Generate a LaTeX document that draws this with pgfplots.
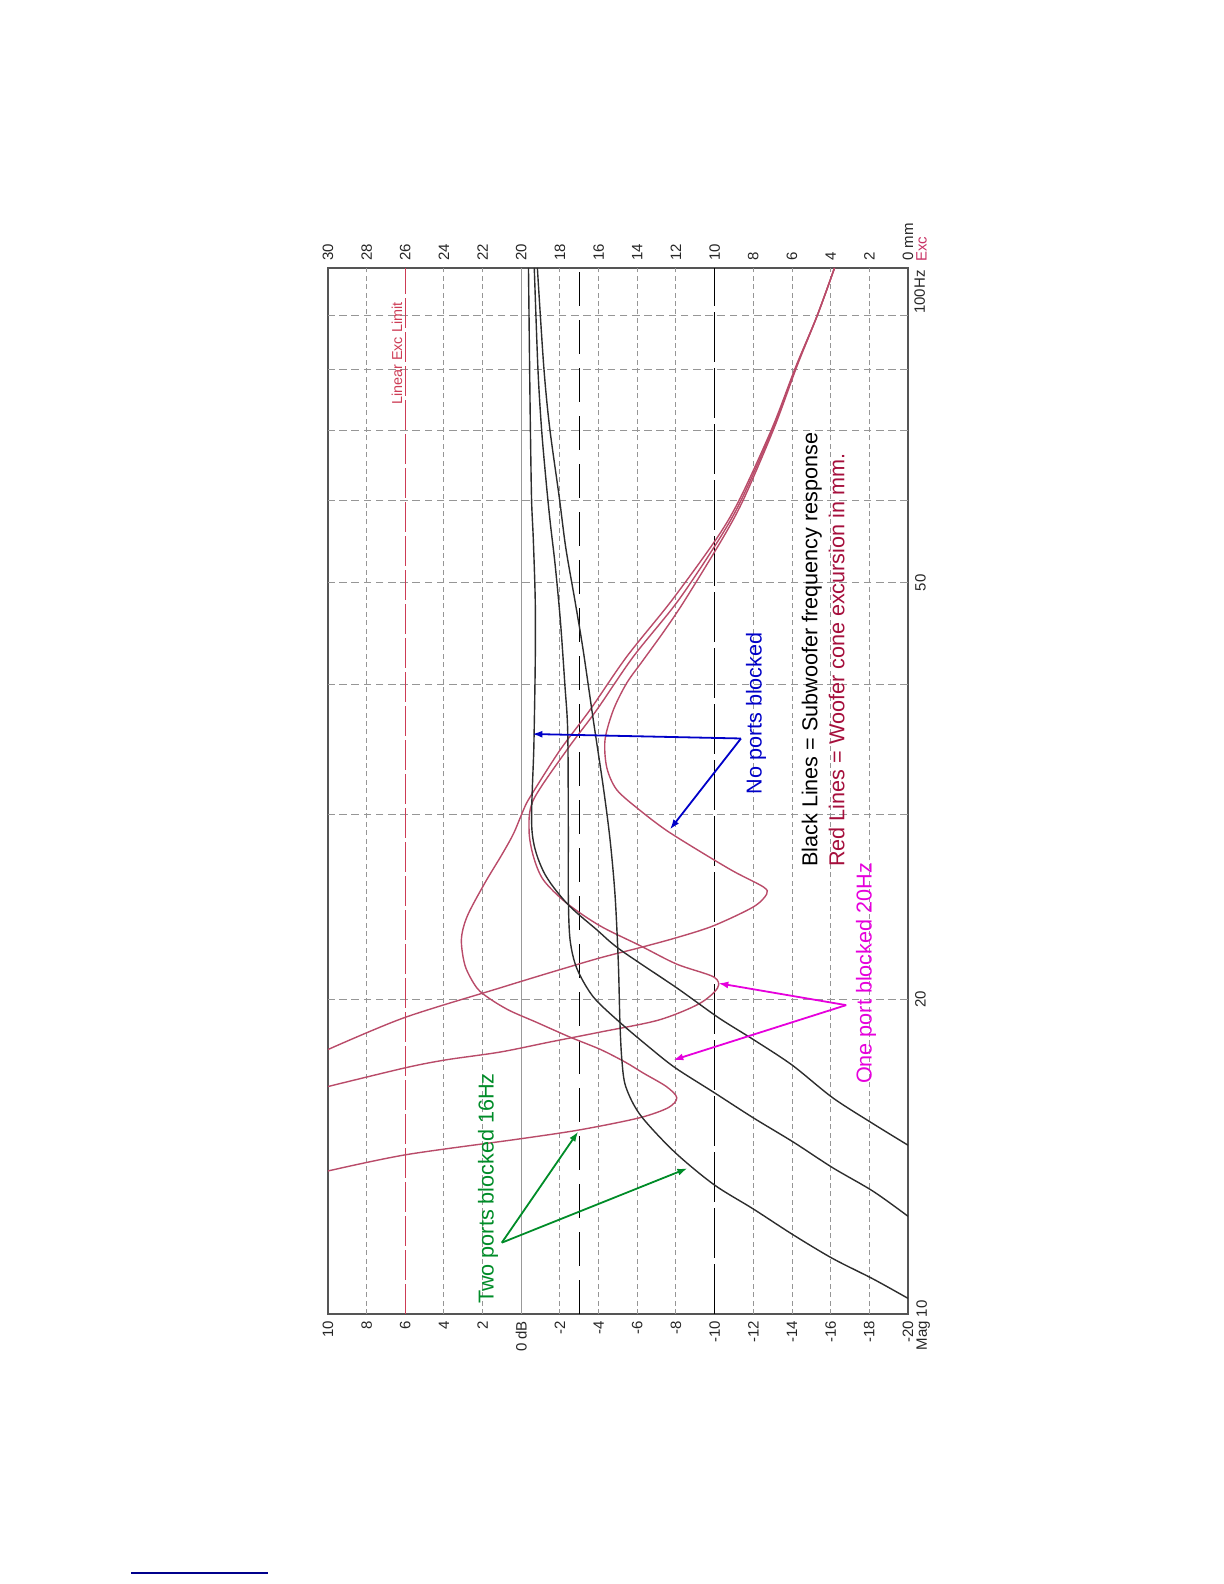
\documentclass[border=0pt]{standalone}
\usepackage{pgfplots}
\pgfplotsset{compat=1.18}
\usepackage{fontspec}
\setmainfont{Liberation Sans}
\usetikzlibrary{arrows.meta,calc}

\definecolor{exccol}{RGB}{185,75,105}
\definecolor{splcol}{RGB}{45,45,45}
\definecolor{limcol}{RGB}{205,60,85}
\definecolor{gridcol}{RGB}{150,150,150}
\definecolor{framecol}{RGB}{85,85,85}
\definecolor{redtxt}{RGB}{165,15,60}
\definecolor{greentxt}{RGB}{0,140,40}
\definecolor{bluetxt}{RGB}{0,0,200}
\definecolor{magtxt}{RGB}{230,0,220}
\definecolor{linkcol}{RGB}{0,0,140}

\newcommand{\ticksize}{\fontsize{7.5}{9}\selectfont}
\newcommand{\notesize}{\fontsize{10.8}{13}\selectfont}

\begin{document}
\begin{tikzpicture}
\path[use as bounding box] (0,0) rectangle (612pt,792pt);
\draw[linkcol, line width=0.8pt] (65.5pt,5.5pt) -- (134pt,5.5pt);

\begin{axis}[
  at={(164pt,135pt)}, anchor=south west,
  width=290pt, height=523pt, scale only axis,
  xmin=-20, xmax=10, x dir=reverse,
  ymin=10, ymax=100, ymode=log,
  axis line style={draw=framecol, line width=0.8pt},
  xtick={-20,-18,...,10},
  xticklabels={-20,-18,-16,-14,-12,-10,-8,-6,-4,-2,0 dB,2,4,6,8,10},
  xticklabel style={rotate=90, anchor=east, font=\ticksize, text=black!85},
  ytick={20,50},
  yticklabels={20,50},
  yticklabel pos=right,
  yticklabel style={rotate=90, anchor=north, font=\ticksize, text=black!85},
  major tick length=0pt,
  minor tick length=0pt,
  yminorticks=false,
  clip mode=individual,
]
% grid
\pgfplotsinvokeforeach{-18,-16,-14,-12,-8,-6,-4,-2,2,4,8}{
  \draw[gridcol, line width=0.5pt, dash pattern=on 2.5pt off 1.7pt] (axis cs:#1,10) -- (axis cs:#1,100);
}
\pgfplotsinvokeforeach{20,30,40,50,60,70,80,90}{
  \draw[gridcol, line width=0.5pt, dash pattern=on 3.8pt off 2.3pt] (axis cs:-20,#1) -- (axis cs:10,#1);
}
% reference lines
\addplot[gray!80, line width=0.5pt] coordinates {(0,10) (0,100)};
\addplot[black, line width=0.8pt, dash pattern=on 17pt off 7pt] coordinates {(-3,10) (-3,100)};
\addplot[black, line width=0.8pt, dash pattern=on 25pt off 3pt] coordinates {(-10,10) (-10,100)};
\addplot[limcol, line width=0.8pt, dash pattern=on 15pt off 2pt] coordinates {(6,10) (6,100)};

% excursion curves (mm = dB + 20)
\addplot[exccol, line width=0.7pt, smooth] coordinates {
(10,17.9) (6.06,19.2) (1.1,20.5) (-1.48,21.2) (-4.07,21.9) (-6.14,22.4) (-8.04,22.9) (-9.93,23.5) (-12.0,24.5) (-12.69,25.2) (-12.52,25.6) (-10.97,26.5) (-9.22,27.7) (-7.5,29.0) (-6.14,30.3) (-4.94,31.7) (-4.42,33.3) (-4.33,35.4) (-4.76,37.8) (-5.45,40.1) (-6.31,42.2) (-7.4,45) (-8.45,48.1) (-10.45,55.3) (-11.55,60.4) (-13.1,70.5) (-14.25,80.5) (-15.3,90) (-16.2,100)};
\addplot[exccol, line width=0.7pt, smooth] coordinates {
(10,16.5) (5.97,17.2) (3.88,17.5) (1.1,17.8) (-1.48,18.2) (-4.07,18.6) (-7.1,19.1) (-9.2,19.8) (-10.15,20.5) (-9.95,21.0) (-8.04,21.6) (-6.14,22.5) (-4.07,23.5) (-2.35,24.7) (-1.14,26.0) (-0.62,27.4) (-0.4,29.0) (-0.62,31.0) (-2.35,34.6) (-3.9,37.8) (-5.79,42.5) (-8.12,48.1) (-10.3,55.3) (-11.45,60.4) (-13.05,70.5) (-14.22,80.5) (-15.3,90) (-16.2,100)};
\addplot[exccol, line width=0.7pt, smooth] coordinates {
(10,13.7) (5.96,14.2) (0.12,14.7) (-3.04,15.0) (-6.1,15.4) (-7.6,15.75) (-8.04,16.1) (-7.5,16.5) (-6.3,17.0) (-5.4,17.4) (-4.1,17.9) (-2.5,18.4) (-0.8,19.0) (0.6,19.5) (1.6,20.0) (2.3,20.5) (2.9,21.5) (3.1,22.8) (2.8,24.0) (1.9,25.8) (1.0,27.5) (0.4,28.8) (-0.1,30.3) (-0.45,31.2) (-2.0,34.6) (-3.55,37.8) (-5.45,42.5) (-7.78,48.1) (-10.15,55.3) (-11.35,60.4) (-13.0,70.5) (-14.2,80.5) (-15.3,90) (-16.2,100)};

% frequency response curves
\addplot[splcol, line width=0.7pt, smooth] coordinates {
(-20,14.5) (-18.2,15.2) (-16.1,16.1) (-14.0,17.3) (-12.0,18.3) (-10.2,19.2) (-8.04,20.5) (-5.11,22.3) (-3.9,23.3) (-2.35,24.7) (-1.14,26.5) (-0.55,29) (-0.65,35) (-0.72,42) (-0.72,48) (-0.62,55) (-0.53,60) (-0.47,70) (-0.43,80) (-0.37,100)};
\addplot[splcol, line width=0.7pt, smooth] coordinates {
(-20,12.4) (-18.2,13.1) (-16.1,13.8) (-14.07,14.6) (-12.0,15.4) (-9.93,16.3) (-7.95,17.2) (-6.6,18.0) (-5.1,19.0) (-3.72,20.1) (-2.87,21.4) (-2.52,22.8) (-2.43,25.1) (-2.43,29.0) (-2.4,36) (-2.25,40) (-2.02,46) (-1.75,52) (-1.5,57) (-1.3,62) (-1.05,70) (-0.86,80) (-0.67,100)};
\addplot[splcol, line width=0.7pt, smooth] coordinates {
(-20,10.35) (-18.2,10.8) (-16.1,11.3) (-14.07,11.9) (-12.0,12.6) (-9.95,13.3) (-7.9,14.3) (-6.15,15.5) (-5.4,16.5) (-5.2,17.5) (-5.1,19.0) (-5.02,21.6) (-4.85,25.1) (-4.59,28.4) (-4.24,31.9) (-3.72,37.0) (-3.2,43.1) (-2.78,48) (-2.3,54) (-1.96,60.4) (-1.46,70.5) (-1.16,80.5) (-0.83,100)};

% annotations
\node[rotate=90, anchor=center, font=\fontsize{7.2}{8}\selectfont, text=limcol] at (axis cs:6.43,82.8) {Linear Exc Limit};
\node[rotate=90, anchor=west, font=\notesize, text=greentxt] at (axis cs:1.72,10.07) {Two ports blocked 16Hz};
\node[rotate=90, anchor=west, font=\notesize, text=bluetxt] at (axis cs:-12.14,30.9) {No ports blocked};
\node[rotate=90, anchor=west, font=\notesize, text=black] at (axis cs:-15.02,26.35) {Black Lines = Subwoofer frequency response};
\node[rotate=90, anchor=west, font=\notesize, text=redtxt] at (axis cs:-16.31,26.35) {Red Lines = Woofer cone excursion in mm.};
\node[rotate=90, anchor=west, font=\notesize, text=magtxt] at (axis cs:-17.83,16.34) {One port blocked 20Hz};

\draw[greentxt, line width=0.9pt, -{Latex[length=5pt,width=3.5pt]}] (axis cs:1.01,11.70) -- (axis cs:-2.94,14.94);
\draw[greentxt, line width=0.9pt, -{Latex[length=5pt,width=3.5pt]}] (axis cs:1.01,11.70) -- (axis cs:-8.59,13.78);
\draw[bluetxt, line width=0.9pt, -{Latex[length=5pt,width=3.5pt]}] (axis cs:-11.36,35.5) -- (axis cs:-0.57,35.85);
\draw[bluetxt, line width=0.9pt, -{Latex[length=5pt,width=3.5pt]}] (axis cs:-11.36,35.5) -- (axis cs:-7.69,29.06);
\draw[magtxt, line width=0.9pt, -{Latex[length=5pt,width=3.5pt]}] (axis cs:-16.8,19.74) -- (axis cs:-10.19,20.71);
\draw[magtxt, line width=0.9pt, -{Latex[length=5pt,width=3.5pt]}] (axis cs:-16.8,19.74) -- (axis cs:-7.86,17.49);

% corner labels
\node[rotate=90, anchor=north east, inner sep=0pt, font=\ticksize, text=black!85] at ($(rel axis cs:1,0)+(4pt,7pt)$) {Mag 10};
\node[rotate=90, anchor=north east, inner sep=0pt, font=\ticksize, text=black!85] at ($(rel axis cs:1,1)+(3pt,-1pt)$) {100Hz};
\node[rotate=90, anchor=north west, inner sep=0pt, font=\ticksize, text={rgb,255:red,200;green,50;blue,100}] at ($(rel axis cs:1,1)+(4pt,3pt)$) {Exc};
\end{axis}

\begin{axis}[
  at={(164pt,135pt)}, anchor=south west,
  width=290pt, height=523pt, scale only axis,
  xmin=0, xmax=30, x dir=reverse,
  ymin=0, ymax=1,
  axis x line*=top,
  axis y line=none,
  axis line style={draw=none},
  xtick={0,2,...,30},
  xticklabels={0 mm,2,4,6,8,10,12,14,16,18,20,22,24,26,28,30},
  xticklabel style={rotate=90, anchor=west, font=\ticksize, text=black!85},
  major tick length=0pt,
]
\end{axis}
\end{tikzpicture}
\end{document}
